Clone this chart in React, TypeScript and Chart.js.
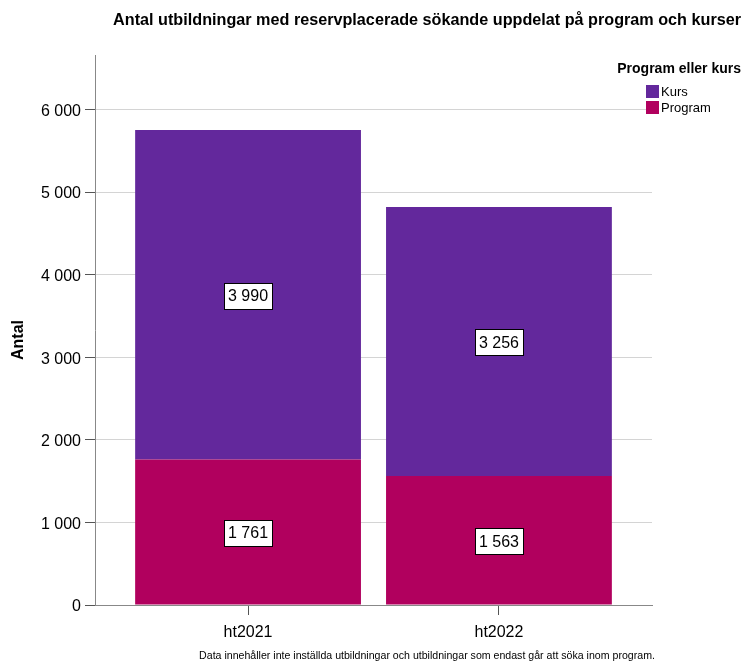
import React, { useEffect, useRef } from "react";
import { Chart, registerables } from "chart.js";

Chart.register(...registerables);

const categories = ["ht2021", "ht2022"];
const kursValues = [3990, 3256];
const programValues = [1761, 1563];
const yTicks = [0, 1000, 2000, 3000, 4000, 5000, 6000];
const seriesNames = ["Kurs", "Program"];
const titleText = "Antal utbildningar med reservplacerade sökande uppdelat på program och kurser";
const legendTitle = "Program eller kurs";
const yTitle = "Antal";
const footnote = "Data innehåller inte inställda utbildningar och utbildningar som endast går att söka inom program.";

const KURS_COLOR = "#63289C";
const PROGRAM_COLOR = "#B1005E";
const FONT = "'Liberation Sans', Arial, sans-serif";

const fmt = (v: number) => {
  const s = Math.round(v).toString();
  return s.replace(/\B(?=(\d{3})+(?!\d))/g, " ");
};

const overlayPlugin = {
  id: "overlay",
  afterDatasetsDraw(chart: any) {
    const ctx = chart.ctx;
    ctx.save();
    ctx.font = `16px ${FONT}`;
    ctx.textAlign = "center";
    ctx.textBaseline = "middle";
    chart.data.datasets.forEach((ds: any, di: number) => {
      const meta = chart.getDatasetMeta(di);
      meta.data.forEach((el: any, i: number) => {
        const v = ds.data[i].y;
        const txt = fmt(v);
        const cx = el.x;
        const cy = (el.y + el.base) / 2 + 1;
        const w = Math.round(ctx.measureText(txt).width + 8);
        const h = 26;
        const bx = Math.round(cx - w / 2) + 0.5;
        const by = Math.round(cy - h / 2) + 0.5;
        ctx.fillStyle = "#ffffff";
        ctx.fillRect(bx, by, w, h);
        ctx.strokeStyle = "#000000";
        ctx.lineWidth = 1;
        ctx.strokeRect(bx, by, w, h);
        ctx.fillStyle = "#000000";
        ctx.fillText(txt, cx, cy + 1);
      });
    });
    ctx.restore();
  },
  afterDraw(chart: any) {
    const ctx = chart.ctx;
    ctx.save();
    ctx.fillStyle = "#000";
    ctx.font = `bold 16.2px ${FONT}`;
    ctx.textAlign = "right";
    ctx.textBaseline = "middle";
    ctx.fillText(titleText, 741, 21);
    ctx.font = `bold 14px ${FONT}`;
    ctx.fillText(legendTitle, 741, 69);
    const colors = [KURS_COLOR, PROGRAM_COLOR];
    ctx.textAlign = "left";
    ctx.font = `13px ${FONT}`;
    seriesNames.forEach((n, i) => {
      const y = 85 + i * 16;
      ctx.fillStyle = colors[i];
      ctx.fillRect(646, y, 13, 13);
      ctx.fillStyle = "#000";
      ctx.fillText(n, 661, y + 7);
    });
    ctx.save();
    ctx.translate(19, 340);
    ctx.rotate(-Math.PI / 2);
    ctx.font = `bold 16px ${FONT}`;
    ctx.textAlign = "center";
    ctx.fillText(yTitle, 0, 0);
    ctx.restore();
    ctx.font = `10.6px ${FONT}`;
    ctx.textAlign = "center";
    ctx.fillStyle = "#000";
    ctx.fillText(footnote, 427, 656);
    ctx.restore();
  },
};

export default function App() {
  const ref = useRef<HTMLCanvasElement | null>(null);
  useEffect(() => {
    if (!ref.current) return;
    const chart = new Chart(ref.current, {
      type: "bar",
      data: {
        datasets: [
          {
            label: "Program",
            data: programValues.map((v, i) => ({ x: i, y: v })),
            backgroundColor: PROGRAM_COLOR,
            borderWidth: 0,
            barPercentage: 0.9,
            categoryPercentage: 1,
          },
          {
            label: "Kurs",
            data: kursValues.map((v, i) => ({ x: i, y: v })),
            backgroundColor: KURS_COLOR,
            borderWidth: 0,
            barPercentage: 0.9,
            categoryPercentage: 1,
          },
        ],
      },
      options: {
        animation: false,
        responsive: false,
        maintainAspectRatio: false,
        layout: { padding: { left: 0, right: 94, top: 55, bottom: 0 } },
        plugins: { legend: { display: false }, title: { display: false }, tooltip: { enabled: false } },
        scales: {
          x: {
            type: "linear",
            stacked: true,
            offset: false,
            min: -0.61,
            max: 1.61,
            afterBuildTicks: (s: any) => {
              s.ticks = categories.map((_, i) => ({ value: i }));
            },
            afterFit: (s: any) => {
              s.height = 56;
            },
            ticks: {
              callback: (v: any) => categories[v as number] ?? "",
              font: { family: FONT, size: 16 },
              color: "#000",
              padding: 8,
              maxRotation: 0,
              autoSkip: false,
            },
            grid: {
              offset: false,
              drawOnChartArea: false,
              drawTicks: true,
              tickLength: 10,
              tickColor: "#555",
              color: "#555",
            },
            border: { display: true, color: "#888", width: 1 },
          },
          y: {
            stacked: true,
            min: 0,
            max: 6660,
            afterBuildTicks: (s: any) => {
              s.ticks = yTicks.map((v) => ({ value: v }));
            },
            afterFit: (s: any) => {
              s.width = 95;
            },
            ticks: {
              callback: (v: any) => fmt(v as number),
              font: { family: FONT, size: 16 },
              color: "#000",
              padding: 4,
              labelOffset: 2,
            },
            grid: {
              color: (c: any) => (c.tick && c.tick.value === 0 ? "#888" : "#d4d4d4"),
              tickColor: "#555",
              tickLength: 10,
              lineWidth: 1,
            },
            border: { display: true, color: "#888", width: 1 },
          },
        },
      } as any,
      plugins: [overlayPlugin],
    });
    return () => chart.destroy();
  }, []);
  return (
    <div style={{ position: "absolute", left: 0, top: 0, width: 746, height: 661, background: "#fff" }}>
      <canvas ref={ref} width={746} height={661} style={{ display: "block" }} />
    </div>
  );
}
